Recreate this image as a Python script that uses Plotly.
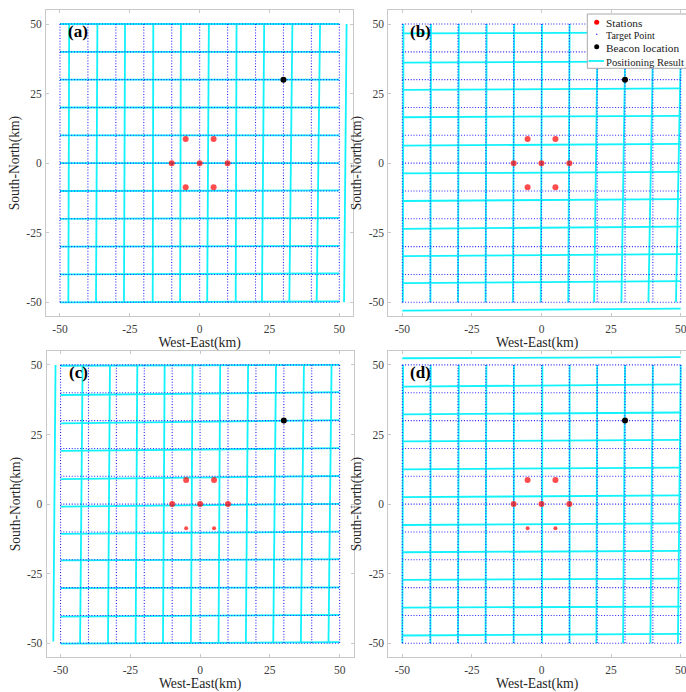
import plotly.graph_objects as go

FIG_W, FIG_H = 686, 692

# ---------------- data ----------------
tick_vals = [-50, -25, 0, 25, 50]
tick_text = ["-50", "-25", "0", "25", "50"]

# target grid (km): lines of target points
target_lines = [-50, -40, -30, -20, -10, 0, 10, 20, 30, 40, 50]
target_span = [-50, 50]

# stations and beacon
station_x = [-10, 0, 10, -5, 5, -5, 5]
station_y = [0, 0, 0, 8.66, 8.66, -8.66, -8.66]
beacon_x = [30]
beacon_y = [30]

# positioning results, panel (a)
a_row_y_west = [50, 40, 30, 20, 10, 0, -10, -20, -30, -40, -50]
a_row_y_east = [50, 40, 30, 20, 10, 0, -9.8, -19.7, -29.7, -39.6, -49.7]
a_row_x = [-50, 50]
a_col_x_north = [-46.7, -36.6, -26.7, -16.6, -6.7, 3.3, 13.2, 23.1, 33.2, 43.1, 52.6]
a_col_x_south = [-47.0, -37.1, -27.1, -16.8, -7.0, 2.7, 12.9, 22.3, 32.1, 41.9, 51.7]
a_col_y_north = [50] * 11
a_col_y_south = [-50] * 11
a_station_size = [6, 6, 6, 6, 6, 6, 6]

# positioning results, panel (b)
b_row_y_west = [46.6, 36.1, 26.3, 16.5, 6.3, -3.7, -13.6, -23.6, -33.4, -43.1, -53.0]
b_row_y_east = [47.0, 36.6, 26.9, 17.0, 6.9, -3.1, -12.9, -22.8, -32.7, -42.4, -52.3]
b_row_x = [-50, 50]
b_col_x_north = [-49.6, -39.7, -29.7, -19.7, -9.8, 0.2, 10.1, 20.2, 30.2, 40.2, 50.2]
b_col_x_south = [-49.8, -39.9, -30.0, -20.1, -10.3, -0.3, 9.6, 18.9, 28.7, 38.4, 48.3]
b_col_y_north = [50] * 11
b_col_y_south = [-50] * 11
b_station_size = [6, 6, 6, 6, 6, 6, 6]

# positioning results, panel (c)
c_row_y_west = [49.7, 39.2, 29.0, 19.1, 9.0, -0.9, -10.7, -20.2, -30.2, -40.4, -50.1]
c_row_y_east = [50.0, 40.2, 30.2, 20.1, 10.1, 0.1, -9.9, -19.8, -29.9, -39.8, -49.6]
c_row_x = [-50, 50]
c_col_x_north = [-51.8, -42.1, -32.3, -22.5, -12.7, -2.7, 7.2, 17.2, 27.2, 37.2, 47.1]
c_col_x_south = [-52.6, -43.0, -33.0, -23.1, -13.3, -3.3, 6.6, 16.4, 26.2, 36.1, 46.0]
c_col_y_north = [50] * 11
c_col_y_south = [-49.4] + [-50] * 10
c_station_size = [6, 6, 6, 6, 6, 4, 4]

# positioning results, panel (d)
d_row_y_west = [52.4, 42.2, 32.2, 22.5, 12.5, 2.5, -7.5, -17.3, -27.2, -37.2, -47.2]
d_row_y_east = [52.8, 43.0, 32.9, 23.1, 13.1, 3.1, -6.9, -16.8, -26.8, -36.8, -46.6]
d_row_x = [-50, 50]
d_col_x_north = [-49.7, -39.8, -29.7, -19.8, -9.9, 0.3, 10.1, 20.0, 30.0, 40.0, 50.0]
d_col_x_south = [-50.0, -39.9, -30.0, -20.1, -10.0, 0.2, 10.1, 19.7, 29.3, 39.1, 49.0]
d_col_y_north = [50] * 11
d_col_y_south = [-50] * 11
d_station_size = [6, 6, 6, 6, 6, 4, 4]

panel_labels = ["(a)", "(b)", "(c)", "(d)"]
legend_labels = ["Stations", "Target Point", "Beacon location", "Positioning Result"]

# ---------------- styling / layout ----------------
SERIF = "Liberation Serif, Times New Roman, serif"
CYAN = "#12f2fa"
BLUE = "#2424ff"
BOX = "#c9c9c9"


def px_x(p):
    return p / FIG_W


def px_y(p):
    return 1 - p / FIG_H


# panel geometry (pixels): left, right, top, bottom, x-range
panels = [
    dict(l=46.0, r=353.3, t=10.1, b=316.2, xr=[-55, 55], full=True),
    dict(l=388.4, r=686.0, t=10.1, b=316.2, xr=[-55, 51.9], full=False),
    dict(l=46.6, r=353.6, t=351.0, b=657.2, xr=[-55, 55], full=True),
    dict(l=388.4, r=686.0, t=351.0, b=657.2, xr=[-55, 51.9], full=False),
]

results = [
    (a_row_y_west, a_row_y_east, a_row_x, a_col_x_north, a_col_x_south, a_col_y_north, a_col_y_south, a_station_size),
    (b_row_y_west, b_row_y_east, b_row_x, b_col_x_north, b_col_x_south, b_col_y_north, b_col_y_south, b_station_size),
    (c_row_y_west, c_row_y_east, c_row_x, c_col_x_north, c_col_x_south, c_col_y_north, c_col_y_south, c_station_size),
    (d_row_y_west, d_row_y_east, d_row_x, d_col_x_north, d_col_x_south, d_col_y_north, d_col_y_south, d_station_size),
]


def segments(x0s, x1s, y0s, y1s):
    xs, ys = [], []
    for x0, x1, y0, y1 in zip(x0s, x1s, y0s, y1s):
        xs += [x0, x1, None]
        ys += [y0, y1, None]
    return xs, ys


fig = go.Figure()

for i, (p, res) in enumerate(zip(panels, results)):
    n = "" if i == 0 else str(i + 1)
    xa, ya = "x" + n, "y" + n
    row_w, row_e, row_x, col_n, col_s, coly_n, coly_s, st_size = res

    # positioning results (cyan distorted grid)
    rx, ry = segments([row_x[0]] * len(row_w), [row_x[1]] * len(row_e), row_w, row_e)
    cx, cy = segments(col_n, col_s, coly_n, coly_s)
    fig.add_trace(go.Scatter(x=rx + cx, y=ry + cy, mode="lines",
                             line=dict(color=CYAN, width=1.8),
                             xaxis=xa, yaxis=ya, showlegend=False, hoverinfo="skip"))

    # target points (blue dotted grid)
    tx, ty = segments([target_span[0]] * len(target_lines), [target_span[1]] * len(target_lines),
                      target_lines, target_lines)
    vx, vy = segments(target_lines, target_lines,
                      [target_span[1]] * len(target_lines), [target_span[0]] * len(target_lines))
    fig.add_trace(go.Scatter(x=tx + vx, y=ty + vy, mode="lines",
                             line=dict(color=BLUE, width=1.1, dash="1px,1.8px"),
                             xaxis=xa, yaxis=ya, showlegend=False, hoverinfo="skip"))

    # stations
    fig.add_trace(go.Scatter(x=station_x, y=station_y, mode="markers",
                             marker=dict(color="#ff0000", size=st_size, line=dict(width=0)),
                             xaxis=xa, yaxis=ya, showlegend=False))
    # beacon
    fig.add_trace(go.Scatter(x=beacon_x, y=beacon_y, mode="markers",
                             marker=dict(color="#000000", size=6, line=dict(width=0)),
                             xaxis=xa, yaxis=ya, showlegend=False))

    common = dict(showgrid=False, zeroline=False, showline=True, linecolor=BOX, linewidth=1,
                  ticks="inside", ticklen=3, tickcolor=BOX, tickwidth=1,
                  tickvals=tick_vals, ticktext=tick_text, ticklabeloverflow="allow",
                  tickfont=dict(family=SERIF, size=11.5, color="#3c3c3c"),
                  automargin=False, fixedrange=True)
    fig.layout["xaxis" + n] = dict(
        common, domain=[px_x(p["l"]), px_x(p["r"])], range=p["xr"], anchor=ya,
        mirror="ticks", ticklabelstandoff=2,
        title=dict(text="West-East(km)", font=dict(family=SERIF, size=13.8, color="#262626"), standoff=2))
    fig.layout["yaxis" + n] = dict(
        common, domain=[px_y(p["b"]), px_y(p["t"])], range=[-55, 55], anchor=xa,
        mirror="ticks" if p["full"] else False, ticklabelstandoff=1,
        title=dict(text="South-North(km)", font=dict(family=SERIF, size=13.6, color="#262626"), standoff=3))

    fig.add_annotation(x=-47.8, y=47.2, xref=xa, yref=ya, text="<b>%s</b>" % panel_labels[i],
                       showarrow=False, xanchor="left", yanchor="middle",
                       font=dict(family=SERIF, size=17, color="#000000"))

# ---------------- legend (drawn in panel b, box runs off the right edge) ----------------
shapes = [
    dict(type="rect", xref="paper", yref="paper", x0=px_x(587.3), x1=px_x(720), y0=px_y(14), y1=px_y(68.3),
         line=dict(color="#a8a8a8", width=1), fillcolor="white", layer="above"),
    dict(type="circle", xref="paper", yref="paper", x0=px_x(594.2), x1=px_x(599.2), y0=px_y(19.7), y1=px_y(24.7),
         line=dict(width=0), fillcolor="#ff0000", layer="above"),
    dict(type="circle", xref="paper", yref="paper", x0=px_x(596.0), x1=px_x(597.4), y0=px_y(33.6), y1=px_y(35.0),
         line=dict(width=0), fillcolor=BLUE, layer="above"),
    dict(type="circle", xref="paper", yref="paper", x0=px_x(594.2), x1=px_x(599.2), y0=px_y(44.2), y1=px_y(49.2),
         line=dict(width=0), fillcolor="#000000", layer="above"),
    dict(type="line", xref="paper", yref="paper", x0=px_x(588.5), x1=px_x(604), y0=px_y(61), y1=px_y(61),
         line=dict(color=CYAN, width=1.8), layer="above"),
]
fig.update_layout(shapes=shapes)

legend_y = [22.5, 35.5, 48.0, 62.0]
legend_size = [11.3, 10, 11.3, 10.6]
for lab, yy, sz in zip(legend_labels, legend_y, legend_size):
    fig.add_annotation(xref="paper", yref="paper", x=px_x(603.5), y=px_y(yy), text=lab,
                       showarrow=False, xanchor="left", yanchor="middle",
                       font=dict(family=SERIF, size=sz, color="#1a1a1a"))

fig.update_layout(width=FIG_W, height=FIG_H, autosize=False,
                  margin=dict(l=0, r=0, t=0, b=0, pad=0, autoexpand=False),
                  paper_bgcolor="white", plot_bgcolor="white", showlegend=False)

fig.write_html("out.html", config={"displayModeBar": False},
               post_script="document.body.style.margin='0';document.body.style.overflow='hidden';")
